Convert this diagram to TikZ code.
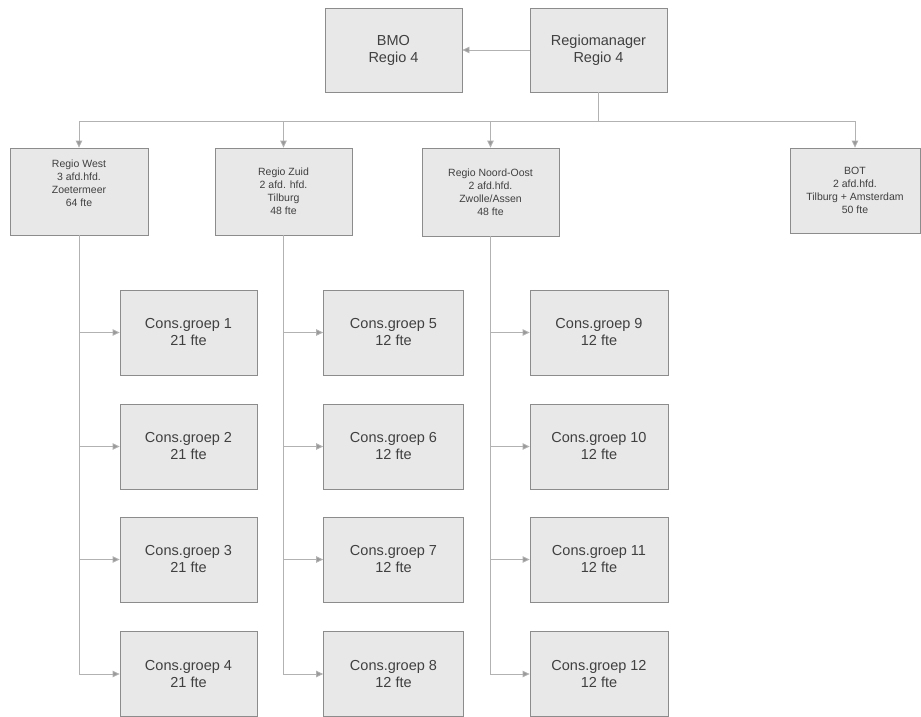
\documentclass[tikz,border=0pt]{standalone}
\usepackage{fontspec}
\setmainfont{Liberation Sans}
\usetikzlibrary{arrows.meta}
\begin{document}
\begin{tikzpicture}[x=1pt,y=-1pt,
  box/.style={draw=black!45, line width=0.8pt, fill=black!9, inner sep=0pt, align=center, text=black!75},
  big/.style={box, font=\fontsize{14.5}{17}\selectfont},
  small/.style={box, font=\fontsize{10.5}{13}\selectfont},
  conn/.style={draw=black!30, line width=0.8pt, -{Triangle[length=7pt,width=6.5pt,fill=black!40]}},
  plain/.style={draw=black!30, line width=0.8pt}]
\useasboundingbox[fill=white] (0,0) rectangle (921,717);
% top
\node[big, minimum width=137pt, minimum height=84pt] (bmo) at (393.5,50) {BMO\\Regio 4};
\node[big, minimum width=137pt, minimum height=84pt] (rm) at (598.5,50) {Regiomanager\\Regio 4};
% regions
\node[small, minimum width=138pt, minimum height=87pt] (west) at (79,191.5) {Regio West\\3 afd.hfd.\\Zoetermeer\\64 fte\\[3pt]\mbox{}};
\node[small, minimum width=137pt, minimum height=87pt] (zuid) at (283.5,191.5) {Regio Zuid\\2 afd. hfd.\\Tilburg\\48 fte};
\node[small, minimum width=137pt, minimum height=88pt] (no) at (490.5,192) {Regio Noord-Oost\\2 afd.hfd.\\Zwolle/Assen\\48 fte};
\node[small, minimum width=130pt, minimum height=85pt] (bot) at (855,190.5) {BOT\\2 afd.hfd.\\Tilburg + Amsterdam\\50 fte};
% consultancy groups
\foreach \i/\y in {1/332.5,2/446.5,3/559.5,4/674}{
  \node[big, minimum width=137pt, minimum height=85pt] (c\i) at (188.5,\y) {Cons.groep \i\\21 fte};
}
\foreach \i/\y in {5/332.5,6/446.5,7/559.5,8/674}{
  \node[big, minimum width=140pt, minimum height=85pt] (c\i) at (393.5,\y) {Cons.groep \i\\12 fte};
}
\foreach \i/\y in {9/332.5,10/446.5,11/559.5,12/674}{
  \node[big, minimum width=138pt, minimum height=85pt] (c\i) at (599,\y) {Cons.groep \i\\12 fte};
}
% connectors top
\draw[conn] (rm.west) -- (bmo.east);
\coordinate (bus) at (598.5,121);
\draw[plain] (rm.south) -- (bus);
\draw[conn] (bus) -| (west.north);
\draw[conn] (bus) -| (zuid.north);
\draw[conn] (bus) -| (no.north);
\draw[conn] (bus) -| (bot.north);
% branches
\foreach \k in {1,2,3,4}{\draw[conn] (west.south) |- (c\k.west);}
\foreach \k in {5,6,7,8}{\draw[conn] (zuid.south) |- (c\k.west);}
\foreach \k in {9,10,11,12}{\draw[conn] (no.south) |- (c\k.west);}
\end{tikzpicture}
\end{document}
